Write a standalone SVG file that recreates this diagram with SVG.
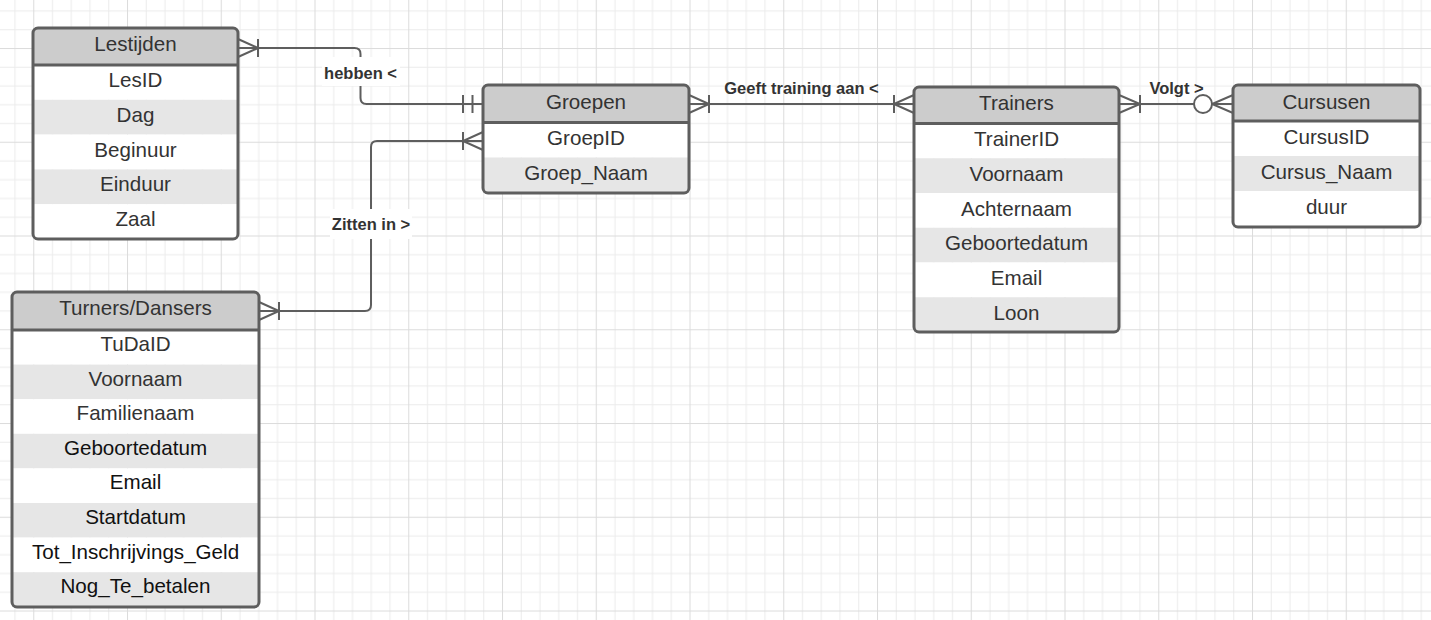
<svg xmlns="http://www.w3.org/2000/svg" width="1431" height="620" viewBox="0 0 1431 620">
  <defs>
    <pattern id="grid" patternUnits="userSpaceOnUse" x="33.25" y="48" width="93.75" height="93.75">
      <rect width="93.75" height="93.75" fill="#ffffff"/>
      <g fill="#ececec">
        <rect x="18.75" y="0" width="1" height="93.75"/>
        <rect x="37.5" y="0" width="1" height="93.75"/>
        <rect x="56.25" y="0" width="1" height="93.75"/>
        <rect x="75" y="0" width="1" height="93.75"/>
        <rect x="0" y="18.75" width="93.75" height="1"/>
        <rect x="0" y="37.5" width="93.75" height="1"/>
        <rect x="0" y="56.25" width="93.75" height="1"/>
        <rect x="0" y="75" width="93.75" height="1"/>
      </g>
      <g fill="#dcdcdc">
        <rect x="0" y="0" width="1" height="93.75"/>
        <rect x="0" y="0" width="93.75" height="1"/>
      </g>
    </pattern>
  </defs>
  <style>
    .box { fill: none; stroke: #5e5e5e; stroke-width: 3; }
    .hdr { fill: #cccccc; }
    .alt { fill: #e6e6e6; }
    .wht { fill: #ffffff; }
    .sep { stroke: #5e5e5e; stroke-width: 3; }
    .t { font-family: "Liberation Sans", Arial, sans-serif; font-size: 20.6px; fill: #333333; text-anchor: middle; }
    .tb { fill: #111111; }
    .ln { fill: none; stroke: #5e5e5e; stroke-width: 2; }
    .lbl { font-family: "Liberation Sans", Arial, sans-serif; font-size: 16.5px; font-weight: bold; fill: #333333; text-anchor: middle; }
    .lblbg { fill: #ffffff; }
  </style>
  <rect width="1431" height="620" fill="url(#grid)"/>

  <g id="connectors">
    <!-- Lestijden - Groepen -->
    <g id="c-hebben">
      <path class="ln" d="M 238 48 H 354.5 Q 360.5 48 360.5 54 V 98 Q 360.5 104 366.5 104 H 483"/>
      <path class="ln" d="M 238 39 L 258 48 L 238 57 M 258 39 V 57"/>
      <path class="ln" d="M 463 95 V 113 M 472.5 95 V 113"/>
      <rect class="lblbg" x="322" y="57" width="78" height="29"/>
      <text class="lbl" x="360.5" y="79">hebben &lt;</text>
    </g>
    <!-- Turners/Dansers - Groepen -->
    <g id="c-zitten">
      <path class="ln" d="M 259 311 H 365 Q 371 311 371 305 V 147 Q 371 141 377 141 H 483"/>
      <path class="ln" d="M 259 302 L 279 311 L 259 320 M 279 302 V 320"/>
      <path class="ln" d="M 483 132 L 463 141 L 483 150 M 463 132 V 150"/>
      <rect class="lblbg" x="330" y="209" width="82" height="30"/>
      <text class="lbl" x="371" y="230">Zitten in &gt;</text>
    </g>
    <!-- Groepen - Trainers -->
    <g id="c-geeft">
      <path class="ln" d="M 689 104 H 914"/>
      <path class="ln" d="M 689 95 L 709 104 L 689 113 M 709 95 V 113"/>
      <path class="ln" d="M 914 95 L 894 104 L 914 113 M 894 95 V 113"/>
      <text class="lbl" x="801.5" y="94">Geeft training aan &lt;</text>
    </g>
    <!-- Trainers - Cursusen -->
    <g id="c-volgt">
      <path class="ln" d="M 1119 104 H 1194 M 1212 104 H 1233"/>
      <path class="ln" d="M 1119 95 L 1140 104 L 1119 113 M 1140 95 V 113"/>
      <path class="ln" d="M 1233 95 L 1212 104 L 1233 113"/>
      <circle class="ln" cx="1203" cy="104" r="9" style="fill:#ffffff"/>
      <text class="lbl" x="1176.5" y="94">Volgt &gt;</text>
    </g>
  </g>

  <!-- Lestijden -->
  <g id="lestijden">
    <path class="hdr" d="M 33 65 V 33 Q 33 28 38 28 H 233 Q 238 28 238 33 V 65 Z"/>
    <rect class="wht" x="33" y="65" width="205" height="34.8"/>
    <rect class="alt" x="33" y="99.8" width="205" height="34.8"/>
    <rect class="wht" x="33" y="134.6" width="205" height="34.8"/>
    <rect class="alt" x="33" y="169.4" width="205" height="34.8"/>
    <rect class="wht" x="33" y="204.2" width="205" height="34.8"/>
    <line class="sep" x1="33" y1="65" x2="238" y2="65"/>
    <rect class="box" x="33" y="28" width="205" height="211" rx="5"/>
    <text class="t" x="135.5" y="51">Lestijden</text>
    <text class="t" x="135.5" y="87">LesID</text>
    <text class="t" x="135.5" y="121.8">Dag</text>
    <text class="t" x="135.5" y="156.6">Beginuur</text>
    <text class="t" x="135.5" y="191.4">Einduur</text>
    <text class="t" x="135.5" y="226.2">Zaal</text>
  </g>

  <!-- Groepen -->
  <g id="groepen">
    <path class="hdr" d="M 483 122.5 V 90 Q 483 85 488 85 H 684 Q 689 85 689 90 V 122.5 Z"/>
    <rect class="wht" x="483" y="122.5" width="206" height="35"/>
    <rect class="alt" x="483" y="157.5" width="206" height="35.5"/>
    <line class="sep" x1="483" y1="122.5" x2="689" y2="122.5"/>
    <rect class="box" x="483" y="85" width="206" height="108" rx="5"/>
    <text class="t" x="586" y="109">Groepen</text>
    <text class="t" x="586" y="145">GroepID</text>
    <text class="t" x="586" y="180">Groep_Naam</text>
  </g>

  <!-- Trainers -->
  <g id="trainers">
    <path class="hdr" d="M 914 123.5 V 92 Q 914 87 919 87 H 1114 Q 1119 87 1119 92 V 123.5 Z"/>
    <rect class="wht" x="914" y="123.5" width="205" height="34.75"/>
    <rect class="alt" x="914" y="158.25" width="205" height="34.75"/>
    <rect class="wht" x="914" y="193" width="205" height="34.75"/>
    <rect class="alt" x="914" y="227.75" width="205" height="34.75"/>
    <rect class="wht" x="914" y="262.5" width="205" height="34.75"/>
    <rect class="alt" x="914" y="297.25" width="205" height="34.75"/>
    <line class="sep" x1="914" y1="123.5" x2="1119" y2="123.5"/>
    <rect class="box" x="914" y="87" width="205" height="245" rx="5"/>
    <text class="t" x="1016.5" y="110">Trainers</text>
    <text class="t" x="1016.5" y="146">TrainerID</text>
    <text class="t" x="1016.5" y="180.7">Voornaam</text>
    <text class="t" x="1016.5" y="215.5">Achternaam</text>
    <text class="t" x="1016.5" y="250.2">Geboortedatum</text>
    <text class="t" x="1016.5" y="285">Email</text>
    <text class="t" x="1016.5" y="319.7">Loon</text>
  </g>

  <!-- Cursusen -->
  <g id="cursusen">
    <path class="hdr" d="M 1233 121 V 90 Q 1233 85 1238 85 H 1415 Q 1420 85 1420 90 V 121 Z"/>
    <rect class="wht" x="1233" y="121" width="187" height="35"/>
    <rect class="alt" x="1233" y="156" width="187" height="35"/>
    <rect class="wht" x="1233" y="191" width="187" height="36"/>
    <line class="sep" x1="1233" y1="121" x2="1420" y2="121"/>
    <rect class="box" x="1233" y="85" width="187" height="142" rx="5"/>
    <text class="t" x="1326.5" y="108.5">Cursusen</text>
    <text class="t" x="1326.5" y="144">CursusID</text>
    <text class="t" x="1326.5" y="179">Cursus_Naam</text>
    <text class="t" x="1326.5" y="214">duur</text>
  </g>

  <!-- Turners/Dansers -->
  <g id="turners-dansers">
    <path class="hdr" d="M 12 330 V 297 Q 12 292 17 292 H 254 Q 259 292 259 297 V 330 Z"/>
    <rect class="wht" x="12" y="330" width="247" height="34.6"/>
    <rect class="alt" x="12" y="364.6" width="247" height="34.6"/>
    <rect class="wht" x="12" y="399.2" width="247" height="34.6"/>
    <rect class="alt" x="12" y="433.8" width="247" height="34.6"/>
    <rect class="wht" x="12" y="468.4" width="247" height="34.6"/>
    <rect class="alt" x="12" y="503" width="247" height="34.6"/>
    <rect class="wht" x="12" y="537.6" width="247" height="34.6"/>
    <rect class="alt" x="12" y="572.2" width="247" height="34.8"/>
    <line class="sep" x1="12" y1="330" x2="259" y2="330"/>
    <rect class="box" x="12" y="292" width="247" height="315" rx="5"/>
    <text class="t" x="135.5" y="315">Turners/Dansers</text>
    <text class="t" x="135.5" y="351">TuDaID</text>
    <text class="t" x="135.5" y="385.6">Voornaam</text>
    <text class="t" x="135.5" y="420.2">Familienaam</text>
    <text class="t tb" x="135.5" y="454.8">Geboortedatum</text>
    <text class="t tb" x="135.5" y="489.4">Email</text>
    <text class="t tb" x="135.5" y="524">Startdatum</text>
    <text class="t tb" x="135.5" y="558.6">Tot_Inschrijvings_Geld</text>
    <text class="t tb" x="135.5" y="593.2">Nog_Te_betalen</text>
  </g>
</svg>
